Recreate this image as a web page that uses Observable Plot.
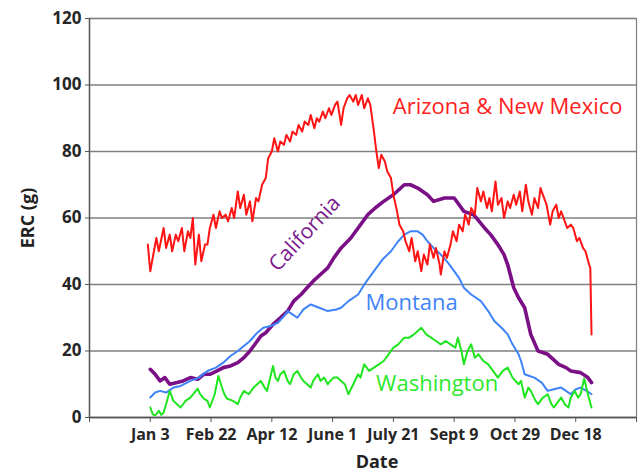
<!DOCTYPE html>
<html><head><meta charset="utf-8">
<script src="https://cdn.jsdelivr.net/npm/d3@7"></script>
<script src="https://cdn.jsdelivr.net/npm/@observablehq/plot@0.6"></script>
<style>body{margin:0;background:#fff}</style>
</head><body><div id="chart"></div>
<script>
// Axis ticks (day of year) and labels
const tickDays = [-47, 3, 53, 103, 153, 203, 253, 303, 353, 403];
const tickLabels = ["", "Jan 3", "Feb 22", "Apr 12", "June 1", "July 21", "Sept 9", "Oct 29", "Dec 18", ""];
const yTicks = [0, 20, 40, 60, 80, 100, 120];

// Arizona & New Mexico
const arizonaDay = [1,3,5,8,10,14,16,19,21,24,26,29,31,34,36,38,40,43,45,48,50,52,55,57,60,62,65,67,70,72,75,77,80,82,85,87,90,92,95,98,100,103,105,108,110,113,115,118,120,123,125,128,130,133,135,138,140,142,145,147,150,152,155,157,160,162,165,167,170,172,174,177,179,182,184,187,189,191,193,196,198,201,203,206,208,211,213,216,218,221,223,226,228,231,233,236,238,241,242,245,247,250,252,255,257,260,262,265,267,270,272,275,277,280,282,284,287,289,292,294,297,299,302,304,307,309,312,314,317,319,322,324,327,329,332,334,337,339,341,344,346,349,351,354,356,359,361,364,365,366];
const arizonaERC = [52,44,48,54,50,57,51,55,50,55,53,57,50,56,54,60,46,55,47,52,52,57,61,57,62,60,61,59,63,60,68,63,67,61,65,59,66,65,70,72,78,80,84,80,83,82,85,83,86,85,88,86,89,88,91,87,90,89,92,90,93,91,94,95,88,93,96,97,95,97,94,97,93,96,94,86,80,75,79,77,74,72,67,62,58,56,53,50,54,47,50,44,49,46,52,48,51,46,43,50,48,52,56,53,58,56,61,58,63,61,69,65,68,63,66,62,71,64,66,60,65,63,67,64,68,62,70,65,61,66,63,69,66,64,58,62,64,60,62,59,57,58,57,53,54,51,50,46,45,25];

// California
const californiaDay = [3,7,11,15,19,25,30,36,42,47,52,58,63,69,75,80,85,90,94,98,104,110,116,121,127,132,137,143,149,154,160,168,174,182,188,195,203,212,217,223,231,236,245,253,261,269,278,283,289,294,297,302,306,311,316,322,330,339,345,349,357,363,366];
const californiaERC = [14.5,13,11,12,10,10.5,11,12,11.5,13,13,14,15,15.5,16.5,18,20,22.5,24.5,25.5,28,30,32,35,37,39,41,43,45,48,51,54,57,61,63,65,67,70,70,69,67,65,66,66,62,61,57,55,52,49,46,39,36,33,25,20,19,16,15,14,13.5,12,10.5];

// Montana
const montanaDay = [3,7,11,16,22,28,36,43,50,57,63,69,75,80,85,91,96,102,108,113,116,120,124,129,135,142,149,156,160,166,174,180,187,194,201,207,212,217,223,227,231,236,242,248,253,257,261,267,275,281,286,292,297,301,306,308,311,315,319,325,330,335,341,345,349,353,357,362,366];
const montanaERC = [6,7.5,8,7.5,9,9.5,11,12,14,15,16.5,18.5,20,21.5,23,25.5,27,27.5,28.5,30.5,32,31,30,32.5,34,33,32,32.5,33,35,37,40.5,44,47.5,50,53,55,56,56,55,53,51,49,46.5,44,42,39,37,35,32,29,27,25,22,19,17,13,12.5,12,10.5,8,8.5,9,8,7,8.5,9,8,7];

// Washington
const washingtonDay = [3,5,7,10,12,14,16,19,22,25,28,32,36,42,44,47,50,52,56,59,62,64,66,71,75,77,80,84,88,91,94,97,99,104,106,108,110,113,116,118,121,124,127,129,132,135,137,141,143,146,149,151,154,157,160,163,166,170,174,176,179,183,187,191,195,199,203,207,212,216,220,223,226,230,234,238,242,246,250,254,256,259,261,264,267,270,273,277,281,285,289,293,297,301,306,308,311,314,316,320,322,326,330,333,335,339,341,344,347,349,352,355,357,360,363,366];
const washingtonERC = [3,1,0.6,2,0.8,1.5,4,8,5,4,3,5,6,8.7,7,5.7,5,3,7,12.5,9,7,5.7,5,4,6,8,7,9,10,11,9,8,15.5,12,11,13,14,11,10,13,14,12,11,10,9,11,13,11,12,10,11,12,12,11,10,7,10,13,12,16,14,15,16,17,19,21,22,24,24,25,26,27,25,24,23,22,23,22,21,24,20,16,20,22,18,19,17,16,14,12,14,15,12,10,11,6,9,8,5,4,6,7,4,3,5,6,4,3,6,8,6,7,11.7,7,3];

const series = [
  {name: "California", day: californiaDay, erc: californiaERC, color: "#7a0f86", width: 3.6},
  {name: "Montana", day: montanaDay, erc: montanaERC, color: "#3f83f8", width: 2},
  {name: "Washington", day: washingtonDay, erc: washingtonERC, color: "#1fe51f", width: 2},
  {name: "Arizona & New Mexico", day: arizonaDay, erc: arizonaERC, color: "#ff1414", width: 2}
];
const rows = s => s.day.map((d, i) => ({day: d, erc: s.erc[i]}));

const seriesLabels = [
  {text: "Arizona & New Mexico", day: 297, erc: 93.5, color: "#ff2020", rotate: 0, size: 22},
  {text: "California", day: 130, erc: 55.3, color: "#7a1a8c", rotate: -47, size: 21},
  {text: "Montana", day: 218, erc: 34.6, color: "#3f83f8", rotate: 0, size: 22},
  {text: "Washington", day: 239, erc: 10.2, color: "#2ee82e", rotate: 0, size: 22}
];

const labelMap = new Map(tickDays.map((d, i) => [d, tickLabels[i]]));

const chart = Plot.plot({
  width: 640,
  height: 475,
  marginLeft: 89,
  marginRight: 4,
  marginTop: 18,
  marginBottom: 58,
  x: {domain: [-47, 403]},
  y: {domain: [0, 120]},
  style: {fontFamily: "'Open Sans', sans-serif", fontSize: "16px", fontWeight: "bold", color: "#262626", background: "#fff"},
  marks: [
    Plot.gridY(yTicks, {stroke: "#808080", strokeOpacity: 1, strokeWidth: 1.4}),
    Plot.frame({stroke: "#808080", strokeWidth: 1.2}),
    Plot.ruleX([-47], {stroke: "#555", strokeWidth: 1.4}),
    Plot.ruleY([0], {stroke: "#555", strokeWidth: 1.4}),
    Plot.axisY(yTicks, {tickSize: 4, tickPadding: 4, label: null, fontSize: 17, stroke: "#555"}),
    Plot.axisX(tickDays, {tickSize: 5, tickPadding: 6, label: null, tickFormat: d => labelMap.get(d), fontSize: 16, stroke: "#555"}),
    ...series.map(s => Plot.line(rows(s), {x: "day", y: "erc", stroke: s.color, strokeWidth: s.width, curve: "linear"})),
    ...seriesLabels.map(l => Plot.text([l], {x: "day", y: "erc", text: "text", fill: l.color, rotate: l.rotate, fontSize: l.size, fontWeight: "normal", textAnchor: "middle", lineAnchor: "middle"})),
    Plot.text(["ERC (g)"], {frameAnchor: "left", dx: -61, rotate: -90, textAnchor: "middle", lineAnchor: "middle", fontSize: 18, fontWeight: "bold", fill: "#222"}),
    Plot.text(["Date"], {frameAnchor: "bottom", dy: 45, dx: 14, textAnchor: "middle", lineAnchor: "middle", fontSize: 18, fontWeight: "bold", fill: "#222"})
  ]
});
document.getElementById("chart").appendChild(chart);
</script>
</body></html>
